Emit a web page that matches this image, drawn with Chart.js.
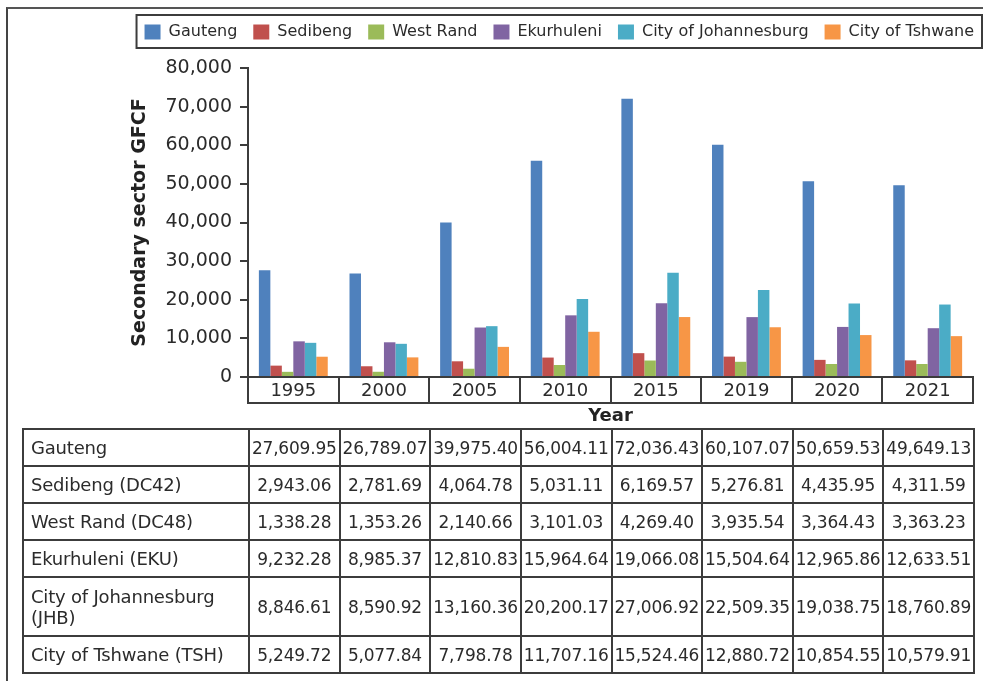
<!DOCTYPE html>
<html>
<head>
<meta charset="utf-8">
<script src="https://cdn.jsdelivr.net/npm/chart.js@4.4.0/dist/chart.umd.min.js"></script>
<style>
  body { margin: 0; background: #fff; overflow: hidden; font-family: "DejaVu Sans", sans-serif; color: #2b2b2b; }
  #frame { position: absolute; left: 6px; top: 7px; width: 990px; height: 700px; border-left: 2px solid #444; border-top: 2px solid #555; }
  #zone { position: absolute; left: 0; top: 0; width: 983px; height: 430px; }
  #tableau { position: absolute; left: 22px; top: 428px; border-collapse: collapse; table-layout: fixed; width: 953px; }
  #tableau td { border: 2px solid #3c3c3c; font-size: 17px; text-align: center; padding: 0; height: 35px; white-space: nowrap; letter-spacing: -0.2px; }
  #tableau td.nom { text-align: left; padding-left: 7px; font-size: 18px; white-space: normal; line-height: 21px; }
</style>
</head>
<body>
<div id="frame"></div>
<div id="zone"><canvas id="graphique"></canvas></div>
<table id="tableau"></table>
<script>
//Les donnees
var annees = ['1995', '2000', '2005', '2010', '2015', '2019', '2020', '2021'];
var nomsLegende = ['Gauteng', 'Sedibeng', 'West Rand', 'Ekurhuleni', 'City of Johannesburg', 'City of Tshwane'];
var nomsTableau = ['Gauteng', 'Sedibeng (DC42)', 'West Rand (DC48)', 'Ekurhuleni (EKU)', 'City of Johannesburg (JHB)', 'City of Tshwane (TSH)'];
var gauteng = [27609.95, 26789.07, 39975.40, 56004.11, 72036.43, 60107.07, 50659.53, 49649.13];
var sedibeng = [2943.06, 2781.69, 4064.78, 5031.11, 6169.57, 5276.81, 4435.95, 4311.59];
var westRand = [1338.28, 1353.26, 2140.66, 3101.03, 4269.40, 3935.54, 3364.43, 3363.23];
var ekurhuleni = [9232.28, 8985.37, 12810.83, 15964.64, 19066.08, 15504.64, 12965.86, 12633.51];
var johannesburg = [8846.61, 8590.92, 13160.36, 20200.17, 27006.92, 22509.35, 19038.75, 18760.89];
var tshwane = [5249.72, 5077.84, 7798.78, 11707.16, 15524.46, 12880.72, 10854.55, 10579.91];
var couleurs = ['#4F81BD', '#C0504D', '#9BBB59', '#8064A2', '#4BACC6', '#F79646'];

var series = [gauteng, sedibeng, westRand, ekurhuleni, johannesburg, tshwane];
var police = '"DejaVu Sans", sans-serif';
var encre = '#2b2b2b';
var trait = '#3c3c3c';

//Le tableau sous le graphique
function remplirTableau() {
  var t = document.getElementById('tableau');
  var html = '<colgroup><col style="width:226px">';
  for (let i = 0; i < annees.length; i++) html += '<col>';
  html += '</colgroup>';
  for (let s = 0; s < series.length; s++) {
    let h = (s == 4) ? 'style="height:57px"' : '';
    html += '<tr><td class="nom" ' + h + '>' + nomsTableau[s] + '</td>';
    for (let i = 0; i < annees.length; i++) {
      html += '<td>' + series[s][i].toLocaleString('en-US', {minimumFractionDigits: 2, maximumFractionDigits: 2}) + '</td>';
    }
    html += '</tr>';
  }
  t.innerHTML = html;
}
remplirTableau();

//Espace sous la legende et decalage vers la droite
var placeLegende = {
  id: 'placeLegende',
  beforeLayout(chart) {
    var leg = chart.legend;
    if (leg && !leg._patch) {
      var fitOrig = leg.fit;
      leg.fit = function() { fitOrig.call(this); this.height += 18; };
      leg._patch = true;
    }
  },
  afterLayout(chart) {
    chart.legend.left += 17;
    chart.legend.right += 17;
  }
};

//Cadre autour de la legende et ligne du bas des cases des annees
var cadres = {
  id: 'cadres',
  afterDraw(chart) {
    var ctx = chart.ctx;
    var boxes = chart.legend.legendHitBoxes;
    var first = boxes[0], last = boxes[boxes.length - 1];
    ctx.save();
    ctx.strokeStyle = trait;
    ctx.lineWidth = 2;
    ctx.strokeRect(first.left - 8, first.top - 9, (last.left + last.width) - first.left + 16, first.height + 17);
    var ca = chart.chartArea;
    var tl = chart.scales.x.options.grid.tickLength;
    ctx.beginPath();
    ctx.moveTo(ca.left - 1, ca.bottom + tl);
    ctx.lineTo(ca.right + 1, ca.bottom + tl);
    ctx.stroke();
    ctx.restore();
  }
};

var datasets = [];
for (let s = 0; s < series.length; s++) {
  datasets.push({ label: nomsLegende[s], data: series[s], backgroundColor: couleurs[s], borderWidth: 0 });
}

var ctx = document.getElementById('graphique').getContext('2d');
var graph = new Chart(ctx, {
  type: 'bar',
  data: { labels: annees, datasets: datasets },
  options: {
    responsive: true,
    maintainAspectRatio: false,
    animation: false,
    categoryPercentage: 0.76,
    barPercentage: 1,
    layout: { padding: { top: 8, left: 0, right: 10, bottom: 0 } },
    plugins: {
      tooltip: { enabled: false },
      legend: {
        position: 'top',
        align: 'end',
        labels: { boxWidth: 16, boxHeight: 15, padding: 16, color: encre, font: { family: police, size: 16 } }
      }
    },
    scales: {
      x: {
        afterFit(scale) { scale.height = 53; },
        grid: { display: true, drawOnChartArea: false, drawTicks: true, tickLength: 26, color: trait, lineWidth: 2 },
        border: { display: true, color: trait, width: 2 },
        ticks: { padding: -22, color: encre, font: { family: police, size: 18 } },
        title: { display: true, text: 'Year', color: '#222', padding: { top: 0, bottom: 3 }, font: { family: police, size: 18, weight: 'bold' } }
      },
      y: {
        min: 0,
        max: 80000,
        afterFit(scale) { scale.width = 248; },
        grid: { drawOnChartArea: false, drawTicks: true, tickLength: 8, color: trait, lineWidth: 2 },
        border: { display: true, color: trait, width: 2 },
        ticks: {
          stepSize: 10000,
          padding: 8,
          color: encre,
          font: { family: police, size: 19 },
          callback: function(v) { return v.toLocaleString('en-US'); }
        },
        title: { display: true, text: 'Secondary sector GFCF', color: '#222', padding: { top: 129, bottom: 0 }, font: { family: police, size: 19, weight: 'bold' } }
      }
    }
  },
  plugins: [placeLegende, cadres]
});
</script>
</body>
</html>
